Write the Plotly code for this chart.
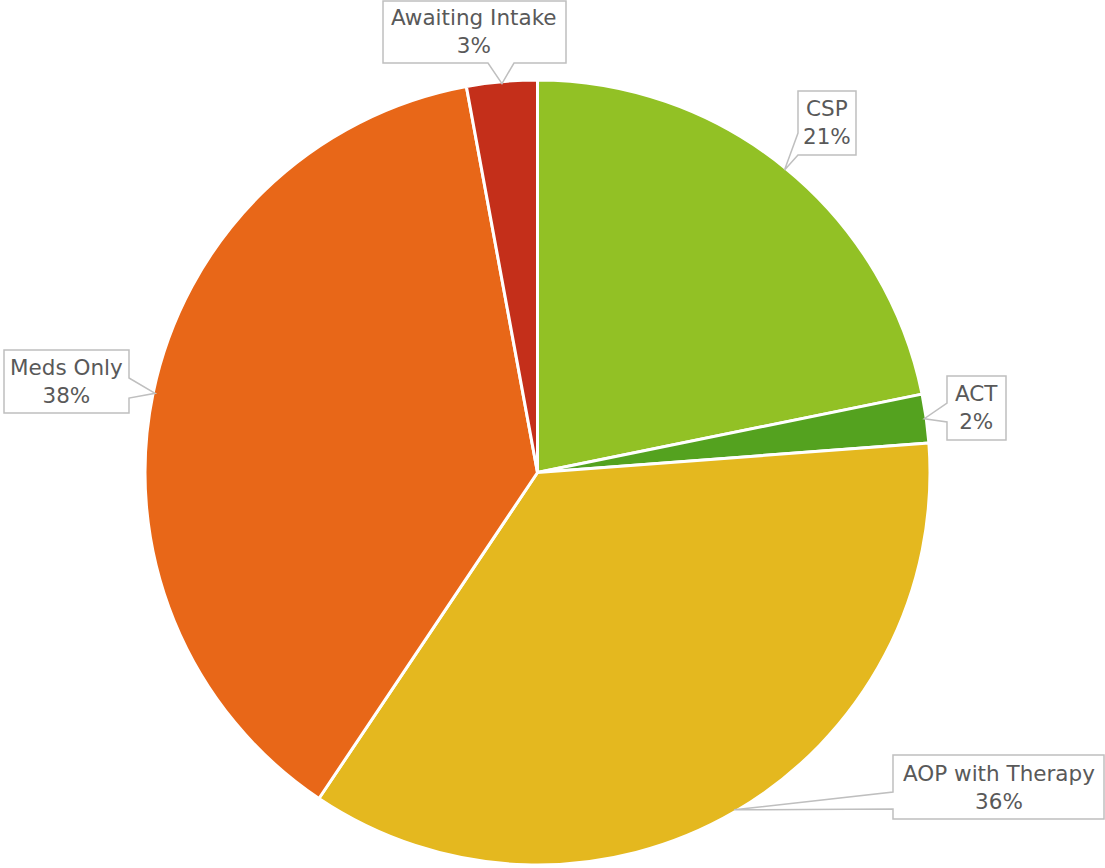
import math
import plotly.graph_objects as go

# ---- data ----
categories = ["CSP", "ACT", "AOP with Therapy", "Meds Only", "Awaiting Intake"]
values = [21.8, 2.0, 35.6, 37.7, 2.9]
pct_labels = ["21%", "2%", "36%", "38%", "3%"]
colors = ["#92C125", "#54A21F", "#E4B81F", "#E86718", "#C42F1A"]

# ---- layout constants (pixels) ----
W, H = 1105, 868
CX, CY, R = 537.5, 472.5, 392.5

# callout boxes: (x0, y0, x1, y1), wedge side, wedge base (b0, b1)
callouts = {
    "CSP": ((798, 91, 856, 155), "left", (133, 155)),
    "ACT": ((947, 376, 1006, 440), "left", (403, 422)),
    "AOP with Therapy": ((893, 755, 1104, 819), "left", (792, 809)),
    "Meds Only": ((4, 350, 129, 413), "right", (378, 398)),
    "Awaiting Intake": ((383, 1, 566, 63), "bottom", (488, 514)),
}


def px(x):
    return x / W


def py(y):
    return 1 - y / H


fig = go.Figure()
fig.add_trace(go.Pie(
    labels=categories,
    values=values,
    sort=False,
    direction="clockwise",
    rotation=0,
    marker=dict(colors=colors, line=dict(color="white", width=3)),
    textinfo="none",
    hoverinfo="label+percent",
    showlegend=False,
    domain=dict(x=[(CX - R) / W, (CX + R) / W],
                y=[(H - CY - R) / H, (H - CY + R) / H]),
))

total = sum(values)
cum = 0.0
shapes = []
annotations = []
for cat, v, lab in zip(categories, values, pct_labels):
    mid = (cum + v / 2) / total * 2 * math.pi
    cum += v
    rt = R - 2
    tx = CX + rt * math.sin(mid)
    ty = CY - rt * math.cos(mid)
    (x0, y0, x1, y1), side, (b0, b1) = callouts[cat]
    pts = [(x0, y0), (x1, y0)]
    if side == "right":
        pts += [(x1, b0), (tx, ty), (x1, b1)]
    pts.append((x1, y1))
    if side == "bottom":
        pts += [(b1, y1), (tx, ty), (b0, y1)]
    pts.append((x0, y1))
    if side == "left":
        pts += [(x0, b1), (tx, ty), (x0, b0)]
    path = "M " + " L ".join(f"{px(a):.5f},{py(b):.5f}" for a, b in pts) + " Z"
    shapes.append(dict(type="path", path=path, xref="paper", yref="paper",
                       fillcolor="white", line=dict(color="#BFBFBF", width=1.5),
                       layer="above"))
    annotations.append(dict(
        text=f"{cat}<br>{lab}", x=px((x0 + x1) / 2), y=py((y0 + y1) / 2),
        xref="paper", yref="paper", xanchor="center", yanchor="middle",
        showarrow=False, align="center",
        font=dict(family="DejaVu Sans", size=21.5, color="#595959")))

fig.update_layout(
    width=W, height=H,
    margin=dict(l=0, r=0, t=0, b=0),
    paper_bgcolor="white", plot_bgcolor="white",
    shapes=shapes, annotations=annotations,
)

fig.write_html("out.html")
